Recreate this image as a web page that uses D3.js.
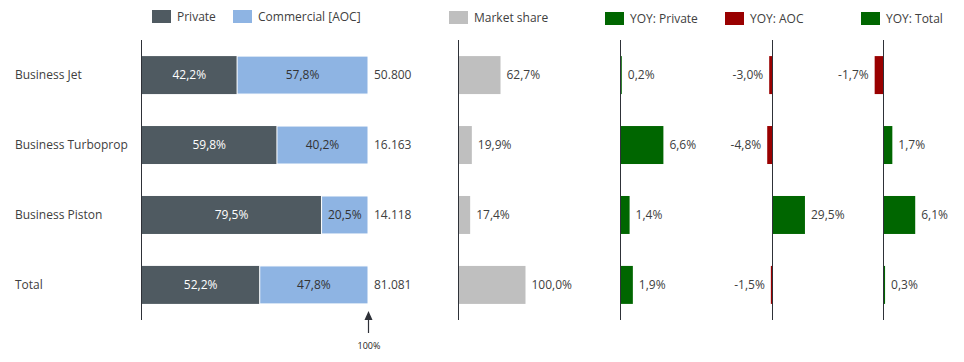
<!DOCTYPE html>
<meta charset="utf-8">
<script src="https://cdn.jsdelivr.net/npm/d3@7"></script>
<style>
    body { margin: 0; background: #fff; }
    text { font-family: "Open Sans", sans-serif; fill: #404040; }
    .axisline { stroke: #2e3138; stroke-width: 1; shape-rendering: crispEdges; }
</style>
<body>
<div id="chart"></div>
<script>

    var categories = ["Business Jet", "Business Turboprop", "Business Piston", "Total"]
    var privateShare = [42.2, 59.8, 79.5, 52.2]
    var commercialShare = [57.8, 40.2, 20.5, 47.8]
    var fleetTotal = [50800, 16163, 14118, 81081]
    var marketShare = [62.7, 19.9, 17.4, 100.0]
    var yoyPrivate = [0.2, 6.6, 1.4, 1.9]
    var yoyAoc = [-3.0, -4.8, 29.5, -1.5]
    var yoyTotal = [-1.7, 1.7, 6.1, 0.3]

    var W = 964, H = 362
    var fmtLocale = d3.formatLocale({decimal: ",", thousands: ".", grouping: [3], currency: ["", ""], minus: "-"})
    var pct = fmtLocale.format(".1f")
    var num = fmtLocale.format(",d")

    var colPrivate = "#4f5a61", colAoc = "#8eb4e3", colShare = "#bfbfbf", colGreen = "#006600", colRed = "#990000"

    var svg = d3.select("#chart").append("svg").attr("width", W).attr("height", H)

    var y = d3.scaleBand().domain(categories).range([40, 320]).paddingInner(0.457).paddingOuter(0.23)

    // panel scales
    var x1 = d3.scaleLinear().domain([0, 100]).range([141.5, 368])
    var x2 = d3.scaleLinear().domain([0, 100]).range([458.5, 525.5])
    var x3 = d3.scaleLinear().domain([0, 10]).range([620.5, 685.5])
    var x4 = d3.scaleLinear().domain([0, 30]).range([772.5, 805.5])
    var x5 = d3.scaleLinear().domain([0, 10]).range([883.5, 935.5])

    var rows = categories.map((c, i) => ({
        cat: c, priv: privateShare[i], aoc: commercialShare[i], total: fleetTotal[i],
        share: marketShare[i], yp: yoyPrivate[i], ya: yoyAoc[i], yt: yoyTotal[i]
    }))

    // category labels
    svg.selectAll(".cat").data(rows).enter().append("text").attr("class", "cat")
        .attr("x", 15).attr("y", d => y(d.cat) + y.bandwidth()/2).attr("dy", "0.35em")
        .text(d => d.cat).style("font-size", "12px")

    // panel 1: stacked 100% bars
    var p1 = svg.append("g")
    p1.selectAll(".priv").data(rows).enter().append("rect").attr("class", "priv")
        .attr("x", x1(0)).attr("y", d => y(d.cat)).attr("width", d => x1(d.priv) - x1(0)).attr("height", y.bandwidth())
        .style("fill", colPrivate)
    p1.selectAll(".aoc").data(rows).enter().append("rect").attr("class", "aoc")
        .attr("x", d => x1(d.priv)).attr("y", d => y(d.cat)).attr("width", d => x1(100) - x1(d.priv)).attr("height", y.bandwidth())
        .style("fill", colAoc).style("stroke", "#fff").style("stroke-width", 1)
    p1.selectAll(".privlab").data(rows).enter().append("text")
        .attr("x", d => (x1(0) + x1(d.priv))/2).attr("y", d => y(d.cat) + y.bandwidth()/2).attr("dy", "0.35em")
        .attr("text-anchor", "middle").text(d => pct(d.priv) + "%").style("font-size", "12px").style("fill", "#fff")
    p1.selectAll(".aoclab").data(rows).enter().append("text")
        .attr("x", d => (x1(d.priv) + x1(100))/2).attr("y", d => y(d.cat) + y.bandwidth()/2).attr("dy", "0.35em")
        .attr("text-anchor", "middle").text(d => pct(d.aoc) + "%").style("font-size", "12px").style("fill", "#333")
    p1.selectAll(".totlab").data(rows).enter().append("text")
        .attr("x", x1(100) + 6).attr("y", d => y(d.cat) + y.bandwidth()/2).attr("dy", "0.35em")
        .text(d => num(d.total)).style("font-size", "12px")

    // 100% marker arrow
    var ax = Math.round(x1(100)) + 0.5
    p1.append("line").attr("x1", ax).attr("x2", ax).attr("y1", 318).attr("y2", 333).style("stroke", "#2e3138").style("stroke-width", 1.2)
    p1.append("path").attr("d", "M" + (ax - 4) + ",320L" + ax + ",311L" + (ax + 4) + ",320Z").style("fill", "#2e3138")
    p1.append("text").attr("x", ax + 0.5).attr("y", 346).attr("dy", "0.35em").attr("text-anchor", "middle")
        .text("100%").style("font-size", "9px").style("fill", "#222")

    // panel 2: market share
    svg.selectAll(".share").data(rows).enter().append("rect")
        .attr("x", x2(0)).attr("y", d => y(d.cat)).attr("width", d => x2(d.share) - x2(0)).attr("height", y.bandwidth())
        .style("fill", colShare)
    svg.selectAll(".sharelab").data(rows).enter().append("text")
        .attr("x", d => x2(d.share) + 6).attr("y", d => y(d.cat) + y.bandwidth()/2).attr("dy", "0.35em")
        .text(d => pct(d.share) + "%").style("font-size", "12px")

    // YOY panels
    function yoyPanel(key, x) {
        var g = svg.append("g")
        g.selectAll("rect").data(rows).enter().append("rect")
            .attr("x", d => Math.min(x(0), x(d[key]))).attr("y", d => y(d.cat))
            .attr("width", d => Math.abs(x(d[key]) - x(0))).attr("height", y.bandwidth())
            .style("fill", d => d[key] < 0 ? colRed : colGreen)
        g.selectAll("text").data(rows).enter().append("text")
            .attr("x", d => d[key] < 0 ? Math.min(x(0), x(d[key])) - 6 : x(d[key]) + 6)
            .attr("y", d => y(d.cat) + y.bandwidth()/2).attr("dy", "0.35em")
            .attr("text-anchor", d => d[key] < 0 ? "end" : "start")
            .text(d => pct(d[key]) + "%").style("font-size", "12px")
    }
    yoyPanel("yp", x3)
    yoyPanel("ya", x4)
    yoyPanel("yt", x5)

    // vertical baselines
    var zeros = [x1(0), x2(0), x3(0), x4(0), x5(0)]
    svg.selectAll(".axisline").data(zeros).enter().append("line").attr("class", "axisline")
        .attr("x1", d => Math.floor(d) + 0.5).attr("x2", d => Math.floor(d) + 0.5).attr("y1", 40).attr("y2", 320)

    // legend
    var legendItems = ["Private", "Commercial [AOC]", "Market share", "YOY: Private", "YOY: AOC", "YOY: Total"]
    var legendColors = [colPrivate, colAoc, colShare, colGreen, colRed, colGreen]
    var legendX = [152, 233, 449, 605, 725, 861]
    var legendY = [17, 17, 18, 19, 19, 19]
    var lg = svg.selectAll(".legend").data(legendItems).enter().append("g")
        .attr("transform", (d, i) => "translate(" + legendX[i] + "," + legendY[i] + ")")
    lg.append("rect").attr("x", 0).attr("y", -7).attr("width", 19).attr("height", 13).style("fill", (d, i) => legendColors[i])
    lg.append("text").attr("x", 25).attr("y", 0).attr("dy", "0.35em").text(d => d).style("font-size", "12px")

</script>
</body>
</html>
